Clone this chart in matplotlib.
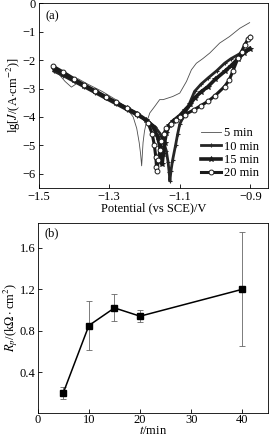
import matplotlib
matplotlib.use("Agg")
import matplotlib.pyplot as plt

plt.rcParams['font.family'] = ['Liberation Serif', 'DejaVu Serif']
plt.rcParams['mathtext.fontset'] = 'stix'
plt.rcParams['font.size'] = 9

# ---- panel (a): polarization curves ----
E5 = [-1.46, -1.445, -1.425, -1.407, -1.395, -1.389, -1.36, -1.32, -1.28, -1.25, -1.232, -1.222,
      -1.215, -1.211, -1.208, -1.206, -1.204, -1.200, -1.195, -1.19, -1.185, -1.171, -1.157,
      -1.147, -1.12, -1.10, -1.081, -1.067, -1.053, -1.035, -1.015, -0.987, -0.959, -0.93, -0.902]
J5 = [-2.30, -2.46, -2.75, -2.95, -2.85, -2.65, -2.85, -3.1, -3.4, -3.7, -4.0, -4.4,
      -4.9, -5.3, -5.72, -5.3, -4.9, -4.5, -4.21, -4.05, -3.86, -3.63, -3.39,
      -3.39, -3.28, -3.16, -2.75, -2.34, -2.11, -1.95, -1.75, -1.40, -1.17, -0.88, -0.68]

E10 = [-1.455, -1.43, -1.40, -1.37, -1.34, -1.31, -1.28, -1.25, -1.22, -1.19, -1.17, -1.155,
       -1.145, -1.138, -1.133, -1.13, -1.128, -1.125, -1.12, -1.112, -1.106, -1.10, -1.09,
       -1.075, -1.058, -1.04, -1.02, -0.995, -0.973, -0.955, -0.935, -0.918, -0.902]
J10 = [-2.40, -2.55, -2.75, -2.95, -3.15, -3.35, -3.55, -3.75, -3.95, -4.15, -4.35, -4.6,
       -4.9, -5.2, -5.6, -5.95, -6.25, -5.9, -5.5, -5.0, -4.6, -4.25, -4.0,
       -3.6, -3.10, -2.85, -2.63, -2.37, -2.11, -1.95, -1.81, -1.68, -1.58]

E15 = [-1.455, -1.43, -1.40, -1.37, -1.34, -1.31, -1.28, -1.25, -1.22, -1.195, -1.175, -1.163,
       -1.156, -1.152, -1.15, -1.147, -1.143, -1.138, -1.13, -1.12, -1.10, -1.085, -1.07,
       -1.058, -1.04, -1.02, -1.0, -0.973, -0.955, -0.935, -0.918, -0.902]
J15 = [-2.30, -2.48, -2.70, -2.90, -3.10, -3.30, -3.50, -3.70, -3.90, -4.10, -4.35, -4.7,
       -5.05, -5.4, -5.67, -5.3, -4.9, -4.55, -4.3, -4.15, -3.95, -3.75, -3.55,
       -3.33, -3.12, -2.93, -2.68, -2.40, -2.2, -1.95, -1.75, -1.6]

E20 = [-1.458, -1.43, -1.40, -1.37, -1.34, -1.31, -1.28, -1.25, -1.22, -1.19, -1.178, -1.172,
       -1.168, -1.166, -1.164, -1.161, -1.156, -1.152, -1.145, -1.138, -1.125, -1.11, -1.1,
       -1.086, -1.06, -1.04, -1.02, -1.0, -0.973, -0.96, -0.95, -0.935, -0.925, -0.916,
       -0.906, -0.9]
J20 = [-2.22, -2.42, -2.65, -2.87, -3.07, -3.28, -3.48, -3.68, -3.88, -4.2, -4.6, -5.0,
       -5.4, -5.75, -5.91, -5.5, -5.15, -4.85, -4.6, -4.38, -4.25, -4.1, -4.0,
       -3.92, -3.75, -3.6, -3.45, -3.25, -2.93, -2.7, -2.40, -1.93, -1.7, -1.46,
       -1.25, -1.17]

# ---- panel (b): polarization resistance ----
t_min = [5, 10, 15, 20, 40]
Rp = [0.20, 0.85, 1.02, 0.94, 1.20]
Rp_err = [0.06, 0.24, 0.13, 0.06, 0.55]

W, H = 269, 437
fig = plt.figure(figsize=(W / 100, H / 100), dpi=100)

ax1 = fig.add_axes([38.6 / W, 1 - 188 / H, (268 - 38.6) / W, (188 - 3.3) / H])
ax1.plot(E5, J5, color='0.3', lw=0.6, label='5 min')
ax1.plot(E10, J10, color='0.15', lw=2.0, marker='+', ms=3.5, mew=0.8, label='10 min')
ax1.plot(E15, J15, color='0.1', lw=2.6, marker='*', ms=4, mew=0.6, label='15 min')
ax1.plot(E20, J20, color='0.1', lw=2.2, marker='o', ms=3.5, mfc='white', mew=0.7,
         label='20 min')
ax1.set_xlim(-1.5, -0.85)
ax1.set_ylim(-6.5, 0)
ax1.set_xticks([-1.5, -1.3, -1.1, -0.9])
ax1.set_xticklabels(['\u22121.5', '\u22121.3', '\u22121.1', '\u22120.9'])
ax1.set_yticks([0, -1, -2, -3, -4, -5, -6])
ax1.set_yticklabels(['0', '\u22121', '\u22122', '\u22123', '\u22124', '\u22125', '\u22126'])
ax1.tick_params(direction='in', length=3, width=0.6, pad=2)
ax1.set_xlabel('Potential (vs SCE)/V', labelpad=0)
ax1.set_ylabel(r'lg[$J$/(A$\cdot$cm$^{-2}$)]', labelpad=0)
ax1.text(0.03, 0.96, '(a)', transform=ax1.transAxes, ha='left', va='top')
ax1.legend(loc='lower right', frameon=False, handlelength=1.6, handletextpad=0.3,
           labelspacing=0.1, borderaxespad=0.3, fontsize=9)
for sp in ax1.spines.values():
    sp.set_linewidth(0.6)

ax2 = fig.add_axes([37.7 / W, 1 - 412.5 / H, (268 - 37.7) / W, (412.5 - 223) / H])
ax2.errorbar(t_min, Rp, yerr=Rp_err, color='black', lw=1.1, marker='s', ms=4,
             ecolor='0.4', elinewidth=0.6, capsize=2.5, capthick=0.6)
ax2.set_xlim(0, 45)
ax2.set_ylim(0.01, 1.84)
ax2.set_xticks([0, 10, 20, 30, 40])
ax2.set_yticks([0.4, 0.8, 1.2, 1.6])
ax2.tick_params(axis='y', direction='in', length=3, width=0.6, pad=1.5)
ax2.tick_params(axis='x', direction='in', length=3, width=0.6, pad=1)
ax2.set_xlabel(r'$t$/min', labelpad=-0.5)
ax2.set_ylabel(r'$R_p$/(k$\Omega\cdot$cm$^2$)', labelpad=0)
ax2.text(0.03, 0.975, '(b)', transform=ax2.transAxes, ha='left', va='top')
for sp in ax2.spines.values():
    sp.set_linewidth(0.6)

fig.savefig('out.png', dpi=100)
